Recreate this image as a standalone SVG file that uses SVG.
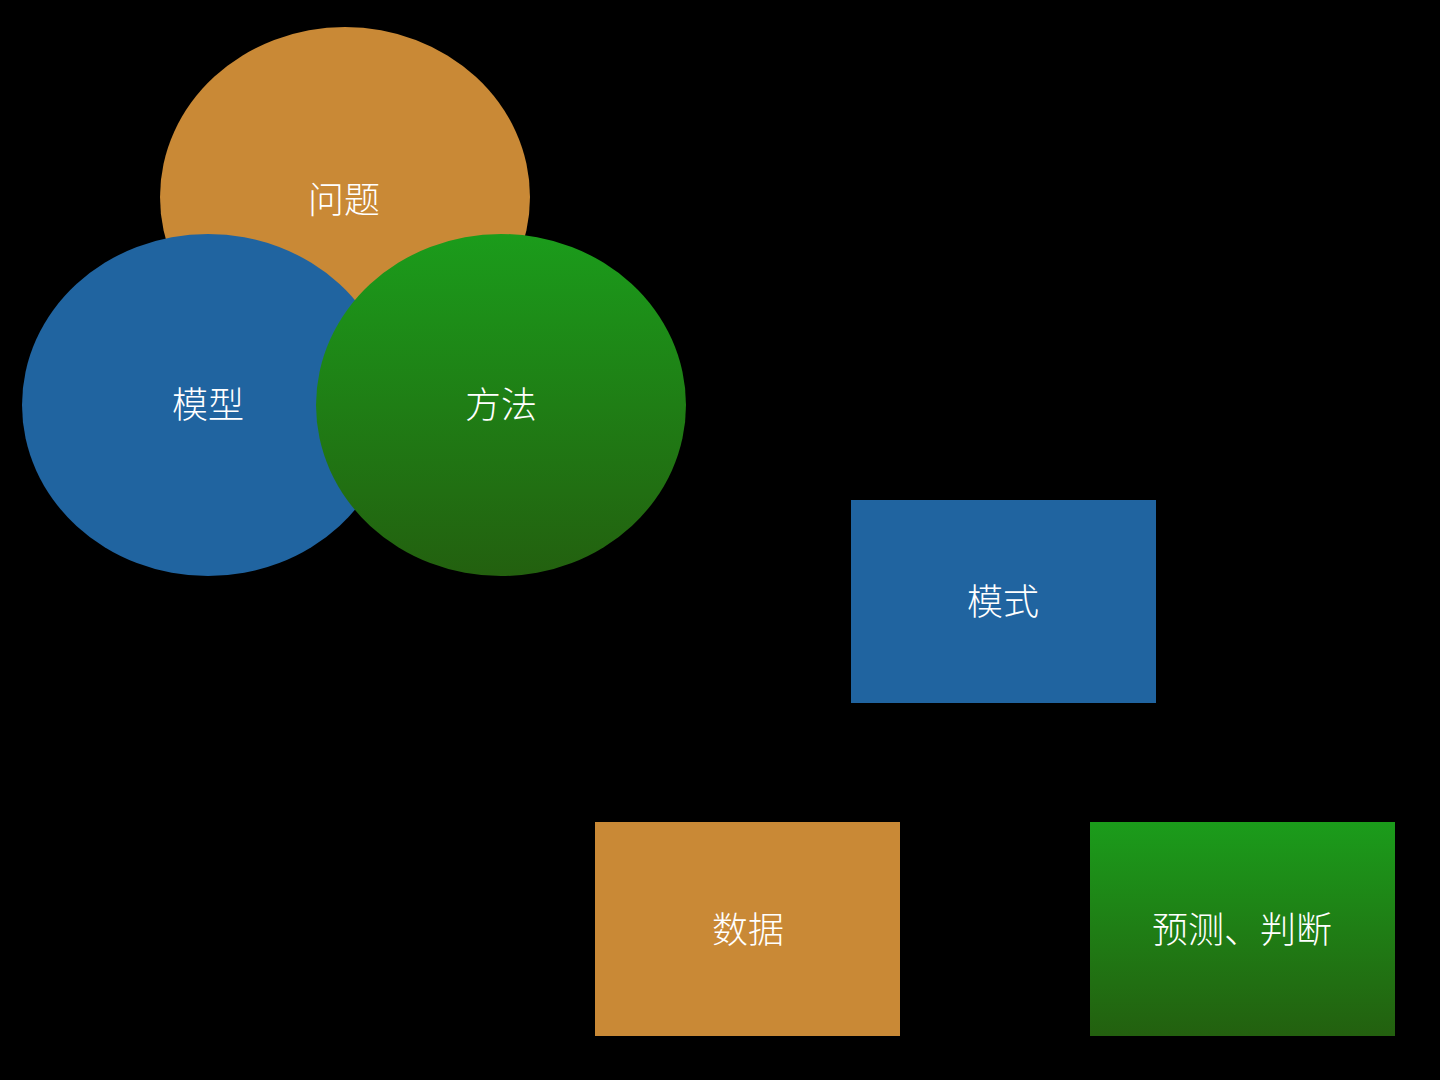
<svg xmlns="http://www.w3.org/2000/svg" width="1440" height="1080" viewBox="0 0 1440 1080">
<style>
.lbl{font-family:"Noto Sans CJK SC","Noto Sans",sans-serif;font-size:36px;font-weight:300;fill:#ffffff;text-anchor:middle;dominant-baseline:central}
.orange{fill:#c98936}
.blue{fill:#2064a0}
</style>
<defs>
<linearGradient id="gGreen" x1="0" y1="0" x2="0" y2="1">
<stop offset="0" stop-color="#1b9c1b"/>
<stop offset="1" stop-color="#23600f"/>
</linearGradient>
</defs>
<rect x="0" y="0" width="1440" height="1080" fill="#000000"/>
<g id="node-wenti"><ellipse class="orange" cx="345" cy="197" rx="185" ry="170"/><text class="lbl" x="344" y="197">问题</text></g>
<g id="node-moxing"><ellipse class="blue" cx="208" cy="405" rx="186" ry="171"/><text class="lbl" x="208" y="402">模型</text></g>
<g id="node-fangfa"><ellipse fill="url(#gGreen)" cx="501" cy="405" rx="185" ry="171"/><text class="lbl" x="501" y="402">方法</text></g>
<g id="node-moshi"><rect class="blue" x="851" y="500" width="305" height="203"/><text class="lbl" x="1003" y="599">模式</text></g>
<g id="node-shuju"><rect class="orange" x="595" y="822" width="305" height="214"/><text class="lbl" x="748" y="927">数据</text></g>
<g id="node-yuce"><rect fill="url(#gGreen)" x="1090" y="822" width="305" height="214"/><text class="lbl" x="1242" y="927">预测、判断</text></g>
<g id="connectors"></g>
</svg>
